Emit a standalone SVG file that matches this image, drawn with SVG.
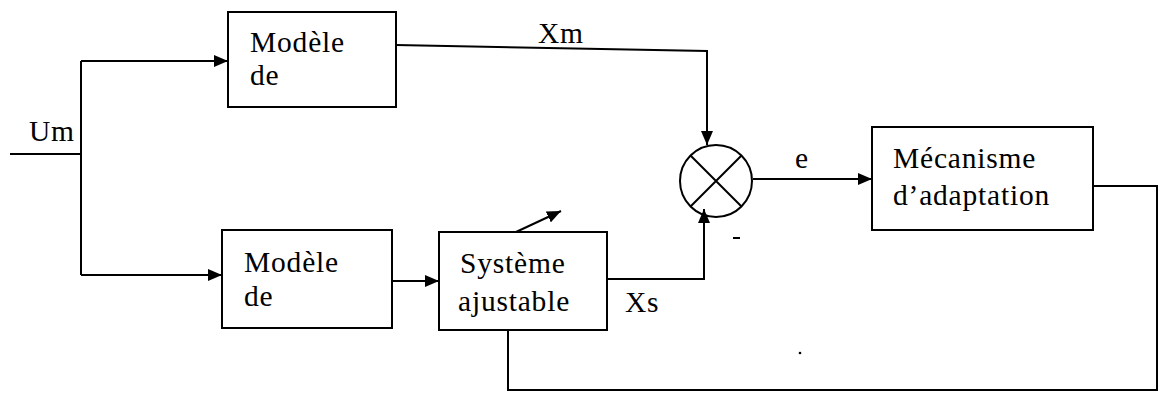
<svg xmlns="http://www.w3.org/2000/svg" width="1164" height="402" viewBox="0 0 1164 402">
<style>
.box{fill:#fff;stroke:#000;stroke-width:2}
.ln{fill:none;stroke:#000;stroke-width:2}
.t{font-size:29.5px;fill:#000;letter-spacing:0.8px}
</style>
<defs>
<marker id="ah" viewBox="0 0 14 12" refX="14" refY="6" markerWidth="14" markerHeight="12" markerUnits="userSpaceOnUse" orient="auto">
<path d="M0,0 L14,6 L0,12 Z" fill="#000"/>
</marker>
</defs>
<rect width="1164" height="402" fill="#fff"/>
<g font-family="Liberation Serif, DejaVu Serif, serif">
<g id="connectors">
<path class="ln" d="M10,154 H81"/>
<path class="ln" d="M81,61 V275"/>
<path class="ln" d="M81,61 H228" marker-end="url(#ah)"/>
<path class="ln" d="M81,275 H222" marker-end="url(#ah)"/>
<path class="ln" d="M396,45 L707,51 V145" marker-end="url(#ah)"/>
<path class="ln" d="M392,281 H439" marker-end="url(#ah)"/>
<path class="ln" d="M607,279 H704 V209" marker-end="url(#ah)"/>
<path class="ln" d="M753,179 H872" marker-end="url(#ah)"/>
<path class="ln" d="M1093,186 H1157 V390 H508 V330"/>
<path class="ln" d="M516,232 L561,211" marker-end="url(#ah)"/>
<text class="t" x="538" y="43">Xm</text>
<text class="t" x="29" y="141">Um</text>
<text class="t" x="795" y="168">e</text>
<text class="t" x="625" y="312">Xs</text>
<path class="ln" d="M733,238 H740"/>
<circle cx="800" cy="353" r="1.3" fill="#000"/>
</g>
<g id="modele1">
<rect class="box" x="228" y="12" width="168" height="95"/>
<text class="t" x="250" y="52">Modèle</text>
<text class="t" x="250" y="85">de</text>
</g>
<g id="modele2">
<rect class="box" x="222" y="230" width="170" height="98"/>
<text class="t" x="244" y="272">Modèle</text>
<text class="t" x="244" y="306">de</text>
</g>
<g id="systeme">
<rect class="box" x="439" y="232" width="168" height="98"/>
<text class="t" x="460" y="273">Système</text>
<text class="t" x="458" y="311">ajustable</text>
</g>
<g id="comparateur">
<circle class="ln" cx="716" cy="181" r="36"/>
<path class="ln" d="M690.5,155.5 L741.5,206.5 M741.5,155.5 L690.5,206.5"/>
</g>
<g id="mecanisme">
<rect class="box" x="872" y="127" width="221" height="103"/>
<text class="t" x="893" y="168">Mécanisme</text>
<text class="t" x="893" y="205">d’adaptation</text>
</g>
</g>
</svg>
